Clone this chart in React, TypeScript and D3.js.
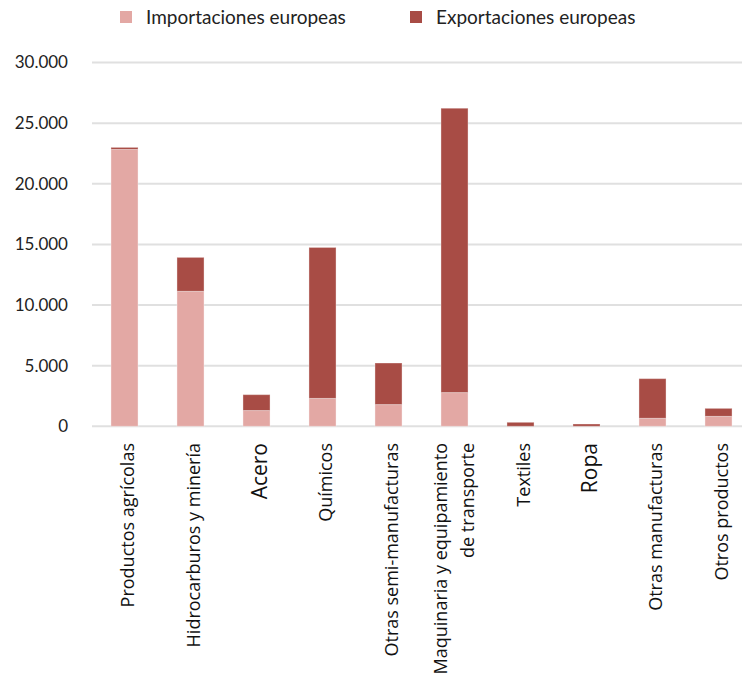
import React from "react";
import * as d3 from "d3";

const categories = [
  "Productos agrícolas",
  "Hidrocarburos y minería",
  "Acero",
  "Químicos",
  "Otras semi-manufacturas",
  "Maquinaria y equipamiento de transporte",
  "Textiles",
  "Ropa",
  "Otras manufacturas",
  "Otros productos",
];
const labelLines = [
  ["Productos agrícolas"],
  ["Hidrocarburos y minería"],
  ["Acero"],
  ["Químicos"],
  ["Otras semi-manufacturas"],
  ["Maquinaria y equipamiento", "de transporte"],
  ["Textiles"],
  ["Ropa"],
  ["Otras manufacturas"],
  ["Otros productos"],
];
const importaciones = [22830, 11130, 1300, 2300, 1790, 2780, 0, 0, 660, 820];
const exportaciones = [170, 2800, 1310, 12450, 3430, 23450, 330, 190, 3270, 660];
const yTicks = [0, 5000, 10000, 15000, 20000, 25000, 30000];
const seriesNames = ["Importaciones europeas", "Exportaciones europeas"];
const colors = ["#e3a8a4", "#a84c45"];

const W = 742;
const H = 673;

export default function App() {
  const x = d3
    .scaleBand<string>()
    .domain(categories)
    .range([91.5, 751.5])
    .paddingInner(0.59)
    .paddingOuter(0.295);
  const y = d3.scaleLinear().domain([0, 30000]).range([426.3, 62.5]);
  const fmt = (v: number) => d3.format(",")(v).replace(/,/g, ".");

  const stacked = categories.map((c, i) => [
    { c, y0: 0, y1: importaciones[i], s: 0 },
    { c, y0: importaciones[i], y1: importaciones[i] + exportaciones[i], s: 1 },
  ]);

  const bigLabels = new Set(["Acero", "Ropa"]);

  return (
    <svg
      width={W}
      height={H}
      style={{ position: "absolute", left: 0, top: 0, background: "#fff" }}
    >
      {/* grid */}
      {yTicks.map((t) => (
        <g key={t}>
          <line x1={92} x2={W} y1={y(t)} y2={y(t)} stroke="#e0e0e0" strokeWidth={2} />
          <text
            x={68}
            y={y(t)}
            dy="0.35em"
            textAnchor="end"
            fontFamily="Lato, 'Noto Sans', sans-serif"
            fontSize={17}
            fill="#222"
          >
            {fmt(t)}
          </text>
        </g>
      ))}
      {/* bars */}
      {stacked.map((segs, i) => (
        <g key={i}>
          {segs.map((d) =>
            d.y1 - d.y0 > 0 ? (
              <rect
                key={d.s}
                x={x(d.c)!}
                width={x.bandwidth()}
                y={y(d.y1)}
                height={y(d.y0) - y(d.y1)}
                fill={colors[d.s]}
                stroke="#fff"
                strokeOpacity={0.35}
                strokeWidth={1}
              />
            ) : null
          )}
        </g>
      ))}
      {/* x labels */}
      {categories.map((c, i) => {
        const cx = x(c)! + x.bandwidth() / 2;
        const lines = labelLines[i];
        const fs = bigLabels.has(c) ? 21 : 18;
        return (
          <text
            key={c}
            transform={`translate(${cx},443) rotate(-90)`}
            textAnchor="end"
            fontFamily="'Open Sans', sans-serif"
            fontSize={fs}
            fill="#111"
          >
            {lines.length === 1 ? (
              <tspan x={0} y={bigLabels.has(c) ? 10.5 : 9.5}>
                {lines[0]}
              </tspan>
            ) : (
              lines.map((l, k) => (
                <tspan key={k} x={0} y={k === 0 ? -7.3 : 19.7} textAnchor="end">
                  {l}
                </tspan>
              ))
            )}
          </text>
        );
      })}
      {/* legend */}
      {seriesNames.map((s, i) => {
        const lx = [120, 410][i];
        return (
          <g key={s}>
            <rect x={lx} y={11} width={12} height={12} fill={colors[i]} />
            <text
              x={lx + 26}
              y={17}
              dy="0.35em"
              fontFamily="Lato, 'Noto Sans', sans-serif"
              fontSize={19}
              fill="#222"
            >
              {s}
            </text>
          </g>
        );
      })}
    </svg>
  );
}
